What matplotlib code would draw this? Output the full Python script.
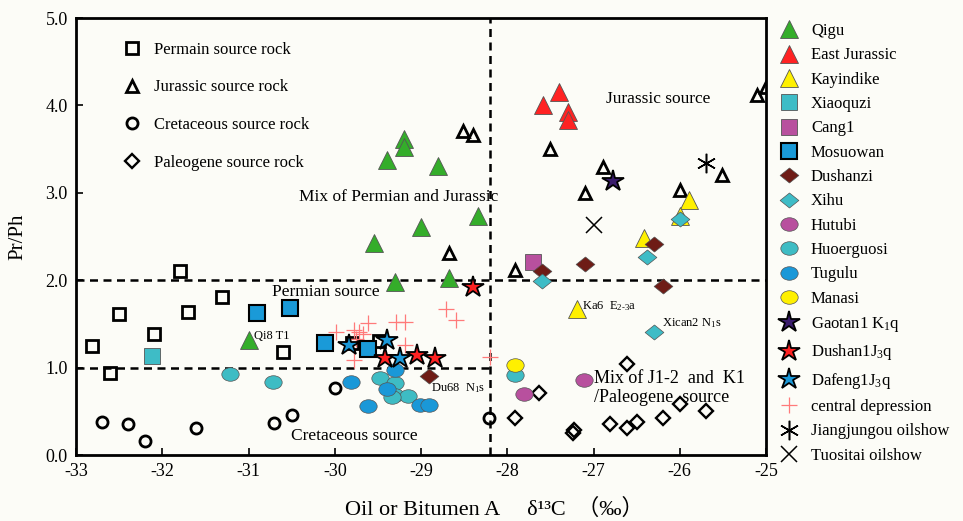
import numpy as np
import matplotlib
matplotlib.use("Agg")
import matplotlib.pyplot as plt
from matplotlib.path import Path
from matplotlib.lines import Line2D

plt.rcParams['font.family'] = ['Liberation Serif', 'Noto Sans CJK SC', 'DejaVu Sans']
plt.rcParams['mathtext.fontset'] = 'custom'
plt.rcParams['mathtext.rm'] = 'Liberation Serif'
plt.rcParams['mathtext.it'] = 'Liberation Serif'

# source rock data (open symbols)
permian_x = [-32.81, -32.61, -32.50, -31.79, -32.10, -31.70, -31.31, -30.60, -29.80, -29.49]
permian_y = [1.25, 0.94, 1.61, 2.10, 1.38, 1.64, 1.81, 1.18, 1.28, 1.30]
jurassic_x = [-28.51, -28.40, -28.68, -27.91, -27.51, -26.89, -27.10, -26.00, -25.51, -25.10, -25.00]
jurassic_y = [3.71, 3.66, 2.31, 2.12, 3.50, 3.29, 3.00, 3.03, 3.20, 4.12, 4.21]
cretaceous_x = [-32.70, -32.40, -32.20, -31.61, -30.71, -30.50, -30.00, -28.21]
cretaceous_y = [0.38, 0.36, 0.16, 0.31, 0.37, 0.46, 0.77, 0.42]
paleogene_x = [-27.91, -27.63, -26.61, -27.23, -27.24, -26.81, -26.61, -26.49, -26.19, -26.00, -25.70]
paleogene_y = [0.42, 0.71, 1.04, 0.29, 0.25, 0.36, 0.31, 0.38, 0.42, 0.58, 0.50]

# oils
qigu_x = [-29.40, -29.20, -29.20, -28.80, -28.34, -29.00, -29.55, -29.30, -28.68, -31.00]
qigu_y = [3.38, 3.62, 3.52, 3.31, 2.73, 2.61, 2.43, 1.98, 2.03, 1.32]
eastjur_x = [-27.40, -27.59, -27.29, -27.29]
eastjur_y = [4.15, 4.01, 3.92, 3.83]
kayin_x = [-25.89, -26.00, -26.42, -27.19]
kayin_y = [2.92, 2.73, 2.48, 1.67]
xiaoquzi_x = [-32.12]
xiaoquzi_y = [1.13]
cang1_x = [-27.70]
cang1_y = [2.21]
mosuowan_x = [-30.90, -30.52, -30.11, -29.61]
mosuowan_y = [1.63, 1.68, 1.28, 1.21]
dushanzi_x = [-27.60, -27.10, -26.30, -26.19, -28.91]
dushanzi_y = [2.11, 2.18, 2.41, 1.93, 0.90]
xihu_x = [-27.60, -26.38, -26.30, -26.00]
xihu_y = [1.99, 2.27, 1.41, 2.70]
hutubi_x = [-27.11, -27.81]
hutubi_y = [0.86, 0.70]
huoer_x = [-31.21, -30.72, -27.91, -29.47, -29.30, -29.30, -29.15, -29.34]
huoer_y = [0.93, 0.83, 0.92, 0.88, 0.82, 0.69, 0.68, 0.66]
tugulu_x = [-29.30, -29.81, -29.40, -29.61, -29.01, -28.91]
tugulu_y = [0.97, 0.83, 0.76, 0.56, 0.57, 0.57]
manasi_x = [-27.91]
manasi_y = [1.03]
gaotan_x = [-26.77]
gaotan_y = [3.13]
dushan1_x = [-28.40, -29.42, -29.05, -28.84]
dushan1_y = [1.92, 1.11, 1.14, 1.11]
dafeng_x = [-29.84, -29.40, -29.24]
dafeng_y = [1.26, 1.32, 1.11]
central_x = [-28.71, -28.59, -29.29, -29.18, -29.61, -29.78, -29.98, -29.72, -29.67, -29.18, -29.78, -28.20, -29.75]
central_y = [1.67, 1.54, 1.52, 1.52, 1.51, 1.43, 1.41, 1.41, 1.39, 1.26, 1.09, 1.12, 1.33]
jiang_x = [-25.69]
jiang_y = [3.34]
tuo_x = [-26.99]
tuo_y = [2.63]

# custom marker shapes (the original is a bit stretched sideways)
circ = Path.unit_circle()
ellipse = Path(circ.vertices * [1.0, 0.78], circ.codes)
flat_diamond = Path([(0, 0.8), (1, 0), (0, -0.8), (-1, 0), (0, 0.8)],
                    [Path.MOVETO, Path.LINETO, Path.LINETO, Path.LINETO, Path.CLOSEPOLY])

fig = plt.figure(figsize=(9.63, 5.21), dpi=100)
fig.patch.set_facecolor('#fcfcf7')
ax = fig.add_axes([76 / 963, 66 / 521, 690 / 963, 437 / 521])
ax.set_facecolor('#fcfcf7')

ax.set_xlim(-33, -25)
ax.set_ylim(0, 5)

# dividing lines
dash = (0, (3.2, 2.2))
ax.axvline(-28.2, color='k', lw=1.8, ls=dash, zorder=1)
ax.axhline(2.0, color='k', lw=1.8, ls=dash, zorder=1)
ax.plot([-33, -28.2], [1.0, 1.0], color='k', lw=1.8, ls=dash, zorder=1)

open_kw = dict(ls='none', mfc='none', mec='k', mew=2.0)
ax.plot(permian_x, permian_y, marker='s', ms=8.5, **open_kw)
ax.plot(jurassic_x, jurassic_y, marker='^', ms=9, **open_kw)
ax.plot(cretaceous_x, cretaceous_y, marker='o', ms=8, **open_kw)
ax.plot(paleogene_x, paleogene_y, marker='D', ms=7.5, mfc='none', mec='k', mew=1.7, ls='none')

edge = '#555555'
series = [
    (qigu_x, qigu_y, 'Qigu', '^', 12.5, '#34ad2a', edge, 0.6),
    (eastjur_x, eastjur_y, 'East Jurassic', '^', 12.5, '#ff2222', edge, 0.6),
    (kayin_x, kayin_y, 'Kayindike', '^', 12.5, '#fff000', edge, 0.6),
    (xiaoquzi_x, xiaoquzi_y, 'Xiaoquzi', 's', 11, '#3ebcc6', edge, 0.6),
    (cang1_x, cang1_y, 'Cang1', 's', 11, '#b8509e', edge, 0.6),
    (mosuowan_x, mosuowan_y, 'Mosuowan', 's', 11, '#1a9ad8', 'k', 1.5),
    (dushanzi_x, dushanzi_y, 'Dushanzi', flat_diamond, 13.5, '#6e1c16', edge, 0.5),
    (xihu_x, xihu_y, 'Xihu', flat_diamond, 13.5, '#3ebcc6', edge, 0.5),
    (hutubi_x, hutubi_y, 'Hutubi', ellipse, 12.5, '#b8509e', edge, 0.5),
    (huoer_x, huoer_y, 'Huoerguosi', ellipse, 12.5, '#3ebcc4', edge, 0.5),
    (tugulu_x, tugulu_y, 'Tugulu', ellipse, 12.5, '#1a98d8', edge, 0.5),
    (manasi_x, manasi_y, 'Manasi', ellipse, 12.5, '#fff000', edge, 0.5),
    (gaotan_x, gaotan_y, r'Gaotan1 K$_{1}$q', '*', 16, '#3a1c6c', 'k', 1.3),
    (dushan1_x, dushan1_y, r'Dushan1J$_{3}$q', '*', 16, '#ff2222', 'k', 1.3),
    (dafeng_x, dafeng_y, r'Dafeng1J$_{3}$q', '*', 16, '#1a98d8', 'k', 1.3),
]
handles = []
for xs, ys, lab, mk, ms, fc, ec, ew in series:
    h, = ax.plot(xs, ys, ls='none', marker=mk, ms=ms, mfc=fc, mec=ec, mew=ew,
                 label=lab, zorder=3)
    handles.append(h)

h, = ax.plot(central_x, central_y, ls='none', marker='+', ms=11, mew=0.9,
             color='#ff7a7a', label='central depression', zorder=2)
handles.append(h)
h, = ax.plot(jiang_x, jiang_y, ls='none', marker=(6, 2, 0), ms=14, mew=1.1,
             color='k', label='Jiangjungou oilshow', zorder=3)
handles.append(h)
h, = ax.plot(tuo_x, tuo_y, ls='none', marker='x', ms=12, mew=1.1,
             color='k', label='Tuositai oilshow', zorder=3)
handles.append(h)

# region labels
ax.text(-30.73, 1.86, 'Permian source', fontsize=12.5, va='center')
ax.text(-30.42, 2.95, 'Mix of Permian and Jurassic', fontsize=12.5, va='center')
ax.text(-26.86, 4.07, 'Jurassic source', fontsize=12.5, va='center')
ax.text(-30.51, 0.22, 'Cretaceous source', fontsize=12.5, va='center')
ax.text(-27.0, 0.87, 'Mix of J1-2  and  K1', fontsize=13, va='center')
ax.text(-27.0, 0.66, '/Paleogene  source', fontsize=13, va='center')

# sample labels
ax.text(-30.94, 1.36, 'Qi8 T1', fontsize=9, va='center')
ax.text(-28.88, 0.77, r'Du68  N$_{1}$s', fontsize=9, va='center')
ax.text(-27.13, 1.70, r'Ka6  E$_{2\text{-}3}$a', fontsize=9, va='center')
ax.text(-26.21, 1.51, r'Xican2 N$_{1}$s', fontsize=9, va='center')

# legend for source rocks
src_handles = [
    Line2D([], [], marker='s', ms=8.5, **open_kw),
    Line2D([], [], marker='^', ms=9, **open_kw),
    Line2D([], [], marker='o', ms=8, **open_kw),
    Line2D([], [], marker='D', ms=7.5, ls='none', mfc='none', mec='k', mew=1.7),
]
src_labels = ['Permain source rock', 'Jurassic source rock',
              'Cretaceous source rock', 'Paleogene source rock']
leg1 = ax.legend(src_handles, src_labels, loc='upper left', bbox_to_anchor=(0.045, 0.98),
                 frameon=False, fontsize=12, labelspacing=1.3, handlelength=1.2,
                 handletextpad=0.7)
ax.add_artist(leg1)

ax.legend(handles=handles, loc='upper left', bbox_to_anchor=(1.0, 1.015),
          frameon=False, fontsize=12, labelspacing=0.5, handlelength=1.4,
          handletextpad=0.6, borderaxespad=0.3)

ax.set_xticks(np.arange(-33, -24, 1))
ax.set_xticklabels([str(v) for v in range(-33, -24)])
ax.set_yticks(np.arange(0, 5.1, 1))
ax.set_yticklabels(['%.1f' % v for v in np.arange(0, 5.1, 1)])
ax.tick_params(direction='in', length=5, width=1.2, labelsize=13, pad=6)
for s in ax.spines.values():
    s.set_linewidth(2)

ax.set_ylabel('Pr/Ph', fontsize=15)
ax.yaxis.set_label_coords(-0.07, 0.5)
ax.set_xlabel('Oil or Bitumen A     δ¹³C  （‰）', fontsize=16)
ax.xaxis.set_label_coords(0.607, -0.1)

fig.savefig('out.png', dpi=100, facecolor=fig.get_facecolor())
